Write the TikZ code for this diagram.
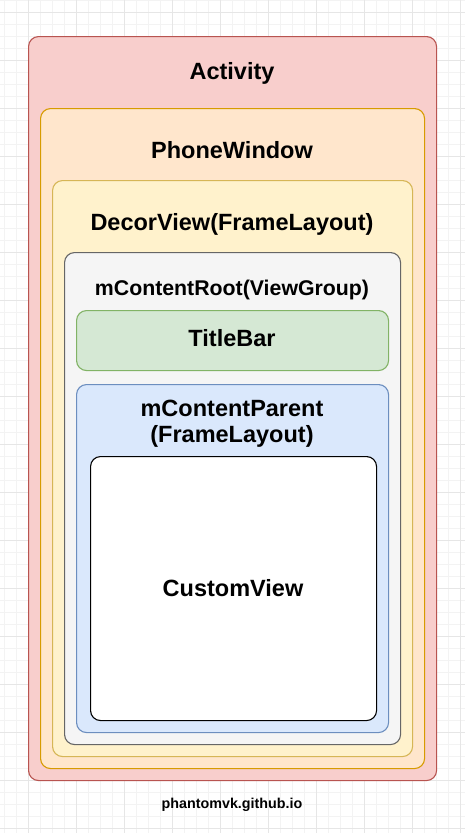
\documentclass[tikz,border=0pt]{standalone}
\usepackage{fontspec}
\setmainfont{Liberation Sans}
\definecolor{actfill}{HTML}{F8CECC}\definecolor{actdraw}{HTML}{B85450}
\definecolor{pwfill}{HTML}{FFE6CC}\definecolor{pwdraw}{HTML}{D79B00}
\definecolor{dvfill}{HTML}{FFF2CC}\definecolor{dvdraw}{HTML}{D6B656}
\definecolor{crfill}{HTML}{F5F5F5}\definecolor{crdraw}{HTML}{666666}
\definecolor{tbfill}{HTML}{D5E8D4}\definecolor{tbdraw}{HTML}{82B366}
\definecolor{cpfill}{HTML}{DAE8FC}\definecolor{cpdraw}{HTML}{6C8EBF}
\definecolor{gridminor}{HTML}{F3F3F3}\definecolor{gridmajor}{HTML}{E6E6E6}
\tikzset{
  box/.style={rectangle, rounded corners=10pt, line width=1.1pt, inner sep=0pt, anchor=north west},
  lbl/.style={font=\bfseries\fontsize{23.5}{26.3}\selectfont, inner sep=0pt, anchor=base, text=black},
}
\begin{document}
\begin{tikzpicture}[x=1pt,y=-1pt]
\useasboundingbox (0,0) rectangle (465,833);
\fill[white] (0,0) rectangle (465,833);
% grid
\foreach \i in {0,...,38} {\draw[gridminor, line width=0.8pt] ({4+12*\i},0) -- ({4+12*\i},833);}
\foreach \j in {0,...,69} {\draw[gridminor, line width=0.8pt] (0,{12*\j}) -- (465,{12*\j});}
\foreach \i in {0,...,9} {\draw[gridmajor, line width=0.8pt] ({28+48*\i},0) -- ({28+48*\i},833);}
\foreach \j in {0,...,17} {\draw[gridmajor, line width=0.8pt] (0,{12+48*\j}) -- (465,{12+48*\j});}
% boxes
\node[box, draw=actdraw, fill=actfill, minimum width=408pt, minimum height=744pt] (activity) at (28,36) {};
\node[box, draw=pwdraw, fill=pwfill, minimum width=384pt, minimum height=660pt] (phonewindow) at (40,108) {};
\node[box, draw=dvdraw, fill=dvfill, minimum width=360pt, minimum height=576pt] (decorview) at (52,180) {};
\node[box, draw=crdraw, fill=crfill, minimum width=336pt, minimum height=492pt] (contentroot) at (64,252) {};
\node[box, draw=tbdraw, fill=tbfill, minimum width=312pt, minimum height=60pt] (titlebar) at (76,310) {};
\node[box, draw=cpdraw, fill=cpfill, minimum width=312pt, minimum height=348pt] (contentparent) at (76,384) {};
\node[box, draw=black, fill=white, minimum width=286pt, minimum height=264pt] (customview) at (90,456) {};
% labels
\node[lbl] (tactivity) at (232,79.3) {Activity};
\node[lbl] (tphonewindow) at (232,158.3) {PhoneWindow};
\node[lbl] (tdecorview) at (232,230) {DecorView(FrameLayout)};
\node[lbl, font=\bfseries\fontsize{21.3}{24}\selectfont] (tcontentroot) at (232,295) {mContentRoot(ViewGroup)};
\node[lbl] (ttitlebar) at (232,346.7) {TitleBar};
\node[lbl, anchor=center, align=center] (tcontentparent) at (232,423.9) {mContentParent\\(FrameLayout)};
\node[lbl] (tcustomview) at (233,596.7) {CustomView};
\node[lbl, font=\bfseries\fontsize{14.3}{16}\selectfont] (footer) at (232,808) {phantomvk.github.io};
\end{tikzpicture}
\end{document}
